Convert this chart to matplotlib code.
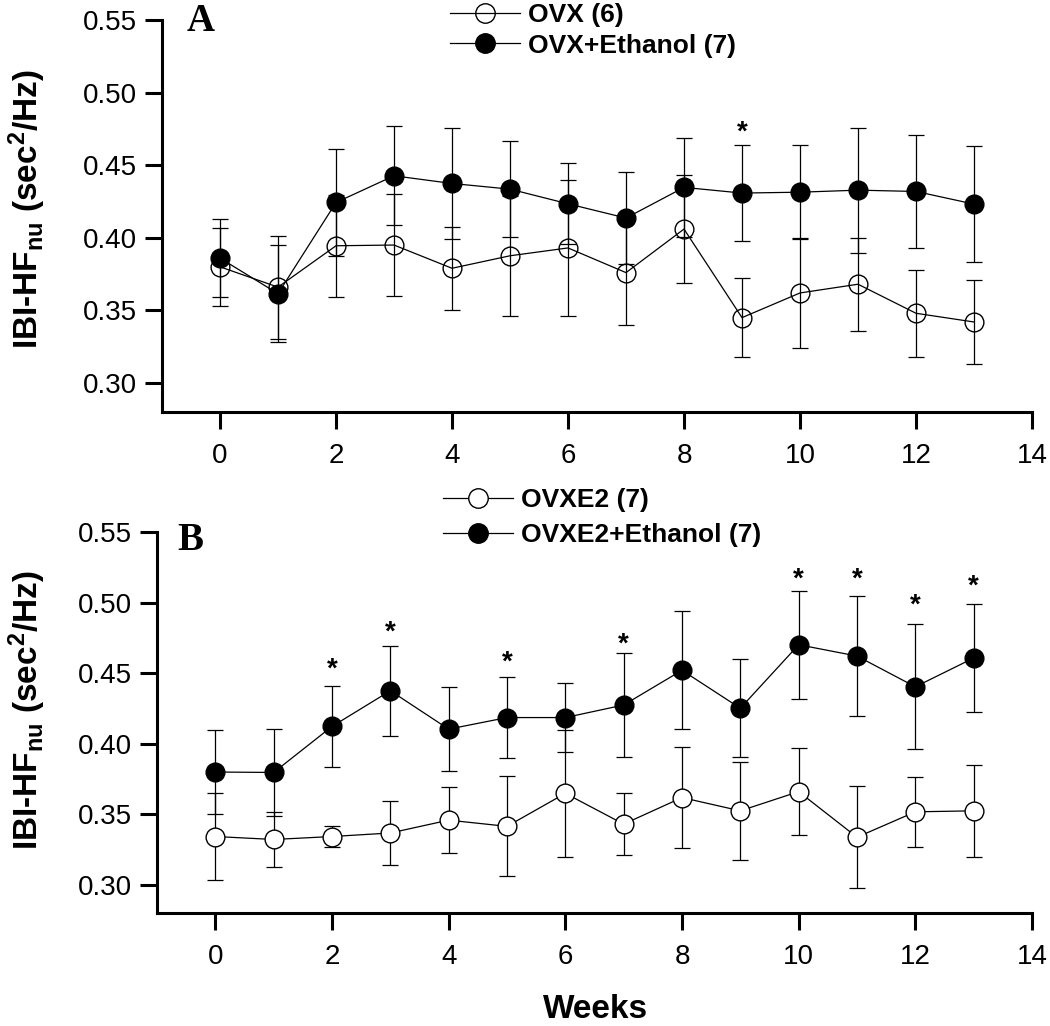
import matplotlib
matplotlib.use('Agg')
import matplotlib.pyplot as plt
from matplotlib.lines import Line2D

plt.rcParams['font.family'] = ['Liberation Sans', 'DejaVu Sans']
plt.rcParams['mathtext.fontset'] = 'custom'
plt.rcParams['mathtext.rm'] = 'Liberation Sans:bold'
plt.rcParams['mathtext.bf'] = 'Liberation Sans:bold'
plt.rcParams['mathtext.it'] = 'Liberation Sans:bold'

weeks = list(range(14))

# Panel A
ovx_mean = [0.380, 0.366, 0.3945, 0.395, 0.379, 0.3876, 0.393, 0.376, 0.406, 0.345, 0.362, 0.368, 0.348, 0.342]
ovx_err = [0.027, 0.0355, 0.035, 0.035, 0.0287, 0.0415, 0.0468, 0.036, 0.037, 0.027, 0.038, 0.032, 0.030, 0.029]
ovx_eth_mean = [0.386, 0.3615, 0.4243, 0.4427, 0.4374, 0.4335, 0.4234, 0.4136, 0.4347, 0.4308, 0.4314, 0.4328, 0.4319, 0.4232]
ovx_eth_err = [0.027, 0.0335, 0.037, 0.034, 0.038, 0.033, 0.028, 0.0315, 0.034, 0.033, 0.0325, 0.043, 0.0386, 0.040]
stars_A_weeks = [9]
stars_A_y = [0.4766]

# Panel B
e2_mean = [0.3342, 0.3321, 0.3342, 0.3367, 0.3458, 0.3414, 0.3648, 0.343, 0.3618, 0.3524, 0.366, 0.3337, 0.3517, 0.3524]
e2_err = [0.031, 0.0195, 0.0074, 0.0224, 0.0235, 0.0355, 0.045, 0.022, 0.036, 0.0345, 0.031, 0.036, 0.025, 0.0328]
e2_eth_mean = [0.3799, 0.3796, 0.4122, 0.4375, 0.4103, 0.4185, 0.4185, 0.4274, 0.452, 0.4251, 0.4701, 0.4621, 0.4403, 0.4607]
e2_eth_err = [0.030, 0.031, 0.029, 0.032, 0.0296, 0.0288, 0.0246, 0.0372, 0.0418, 0.0347, 0.0383, 0.0426, 0.0442, 0.0385]
stars_B_weeks = [2, 3, 5, 7, 10, 11, 12, 13]
stars_B_y = [0.4572, 0.483, 0.4618, 0.4748, 0.5207, 0.5207, 0.5019, 0.5158]

labels_A = ['OVX (6)', 'OVX+Ethanol (7)']
labels_B = ['OVXE2 (7)', 'OVXE2+Ethanol (7)']
yticks = [0.30, 0.35, 0.40, 0.45, 0.50, 0.55]
xticks = [0, 2, 4, 6, 8, 10, 12, 14]
ylabel = r'IBI-HF$_{\mathrm{nu}}$ (sec$^{\mathrm{2}}$/Hz)'

fig = plt.figure(figsize=(10.5, 10.26), dpi=100)
axA = fig.add_axes([162/1050, 1-412/1026, 870/1050, 392/1026])
axB = fig.add_axes([157/1050, 1-913/1026, 875/1050, 381/1026])

LW = 0.9
MS = 13.5


def draw(ax, m1, e1, m2, e2, open_face, stars_w, stars_y):
    ax.errorbar(weeks, m1, yerr=e1, fmt='none', ecolor='black', elinewidth=LW,
                capsize=6, capthick=LW, zorder=2)
    ax.plot(weeks, m1, '-', color='black', lw=LW, marker='o', ms=MS,
            mfc=open_face, mec='black', mew=1.0, zorder=3)
    ax.errorbar(weeks, m2, yerr=e2, fmt='none', ecolor='black', elinewidth=LW,
                capsize=6, capthick=LW, zorder=4)
    ax.plot(weeks, m2, '-', color='black', lw=LW, marker='o', ms=MS,
            mfc='black', mec='black', mew=1.0, zorder=5)
    for w, y in zip(stars_w, stars_y):
        ax.annotate('*', (w, y), xytext=(0, -4.5), textcoords='offset points',
                    ha='center', va='center', fontsize=20, fontweight='bold')
    ax.set_xlim(-1, 14)
    ax.set_ylim(0.28, 0.55)
    ax.set_xticks(xticks)
    ax.set_yticks(yticks)
    ax.set_yticklabels([f'{v:.2f}' for v in yticks])
    for s in ['top', 'right']:
        ax.spines[s].set_visible(False)
    for s in ['left', 'bottom']:
        ax.spines[s].set_linewidth(2.2)
    ax.tick_params(direction='out', length=12, width=2.2, labelsize=20)
    ax.tick_params(axis='y', pad=6)
    ax.tick_params(axis='x', pad=10)
    ax.set_ylabel(ylabel, fontsize=24, fontweight='bold', va='center')


draw(axA, ovx_mean, ovx_err, ovx_eth_mean, ovx_eth_err, 'none', stars_A_weeks, stars_A_y)
draw(axB, e2_mean, e2_err, e2_eth_mean, e2_eth_err, 'white', stars_B_weeks, stars_B_y)

axA.yaxis.set_label_coords((27-162)/870, (412-209)/392)
axB.yaxis.set_label_coords((27-157)/875, (913-710)/381)


def legend(ax, face, labels, x, y, spacing):
    h = [Line2D([], [], color='black', lw=LW, marker='o', ms=14, mfc=face, mec='black', mew=1.0),
         Line2D([], [], color='black', lw=LW, marker='o', ms=14, mfc='black', mec='black', mew=1.0)]
    ax.legend(h, labels, loc='upper left', bbox_to_anchor=(x/1050, 1-y/1026),
              bbox_transform=fig.transFigure, frameon=False, borderpad=0, borderaxespad=0,
              handlelength=2.65, handletextpad=0.3, labelspacing=spacing,
              prop={'weight': 'bold', 'size': 19})


legend(axA, 'none', labels_A, 450, 3, 0.25)
legend(axB, 'white', labels_B, 443, 488, 0.42)

fig.text(201/1050, 1-22/1026, 'A', ha='center', va='center', fontsize=28,
         fontweight='bold', family='Liberation Serif')
fig.text(190/1050, 1-540/1026, 'B', ha='center', va='center', fontsize=28,
         fontweight='bold', family='Liberation Serif')
fig.text(596/1050, 1-1010/1026, 'Weeks', ha='center', va='center', fontsize=24, fontweight='bold')

fig.savefig('out.png', dpi=100)
